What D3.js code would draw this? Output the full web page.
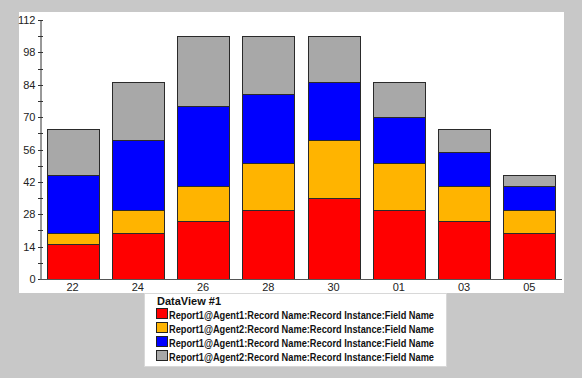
<!DOCTYPE html>
<html><head><meta charset="utf-8">
<script src="https://cdn.jsdelivr.net/npm/d3@7"></script>
<style>
html,body{margin:0;padding:0;background:#c8c8c8;}
svg{display:block;}
</style></head>
<body>
<svg id="c" width="582" height="378"></svg>
<script>
const categories = ["22","24","26","28","30","01","03","05"];
const seriesNames = [
  "Report1@Agent1:Record Name:Record Instance:Field Name",
  "Report1@Agent2:Record Name:Record Instance:Field Name",
  "Report1@Agent1:Record Name:Record Instance:Field Name",
  "Report1@Agent2:Record Name:Record Instance:Field Name"
];
const seriesRed    = [15,20,25,30,35,30,25,20];
const seriesOrange = [5,10,15,20,25,20,15,10];
const seriesBlue   = [25,30,35,30,25,20,15,10];
const seriesGray   = [20,25,30,25,20,15,10,5];
const yTicks = [0,14,28,42,56,70,84,98,112];
const legendTitle = "DataView #1";
const colors = ["#ff0000","#ffb400","#0000ff","#a8a8a8"];

const allSeries = [seriesRed, seriesOrange, seriesBlue, seriesGray];
const rows = categories.map((c,i)=>{const o={cat:c}; allSeries.forEach((s,k)=>o["s"+k]=s[i]); return o;});
const keys = allSeries.map((s,k)=>"s"+k);
const stacked = d3.stack().keys(keys)(rows);

const svg = d3.select("#c");
svg.append("rect").attr("x",0).attr("y",0).attr("width",582).attr("height",378).attr("fill","#c8c8c8");
svg.append("rect").attr("x",19).attr("y",12).attr("width",545).attr("height",281).attr("fill","#fff");

const x = d3.scaleBand().domain(categories).range([40,562]).paddingInner(0.2).paddingOuter(0.1);
const y = d3.scaleLinear().domain([0,112]).range([279,20]);

// bars
svg.append("g").selectAll("g").data(stacked).join("g")
  .attr("fill",(d,i)=>colors[i])
  .selectAll("rect").data(d=>d).join("rect")
  .attr("x",d=>Math.round(x(d.data.cat))+0.5)
  .attr("y",d=>Math.round(y(d[1]))+0.5)
  .attr("width",Math.round(x.bandwidth()))
  .attr("height",d=>Math.round(y(d[0]))-Math.round(y(d[1])))
  .attr("stroke","#2a2a2a").attr("stroke-width",1);

// y axis
const minor = d3.range(0,113,7);
const gy = svg.append("g").attr("transform","translate(40.5,0)");
gy.call(d3.axisLeft(y).tickValues(yTicks).tickSize(0).tickPadding(5).tickFormat(d3.format("d")));
gy.select(".domain").attr("stroke","#333");
gy.selectAll(".tick text").attr("font-family","Liberation Sans, Arial, sans-serif").attr("font-size","11px").attr("fill","#222");
gy.selectAll("line.mt").data(minor).join("line").attr("class","mt")
  .attr("x1",-2.5).attr("x2",2.5).attr("y1",d=>Math.round(y(d))+0.5).attr("y2",d=>Math.round(y(d))+0.5)
  .attr("stroke","#333");

// x axis
const gx = svg.append("g").attr("transform","translate(0,279.5)");
gx.call(d3.axisBottom(x).tickSize(0).tickPadding(4));
gx.select(".domain").attr("stroke","#555").attr("d","M40,0H562");
gx.selectAll(".tick text").attr("font-family","Liberation Sans, Arial, sans-serif").attr("font-size","11px").attr("fill","#222");

// legend
const lg = svg.append("g");
lg.append("rect").attr("x",144.5).attr("y",293.5).attr("width",302).attr("height",73).attr("fill","#fff").attr("stroke","#d8d8d8");
lg.append("text").attr("x",157).attr("y",304.5).text(legendTitle)
  .attr("font-family","Liberation Sans, Arial, sans-serif").attr("font-size","11px").attr("font-weight","bold").attr("fill","#111");
seriesNames.forEach((n,i)=>{
  const cy = 314 + i*14;
  lg.append("rect").attr("x",156.5).attr("y",cy-5.5).attr("width",11).attr("height",10).attr("fill",colors[i]).attr("stroke","#222");
  lg.append("text").attr("x",169).attr("y",cy+4.5).text(n)
    .attr("font-family","Liberation Sans, Arial, sans-serif").attr("font-size","11.5px").attr("font-weight","bold").attr("fill","#111")
    .attr("textLength",265).attr("lengthAdjust","spacingAndGlyphs");
});
</script>
</body></html>
